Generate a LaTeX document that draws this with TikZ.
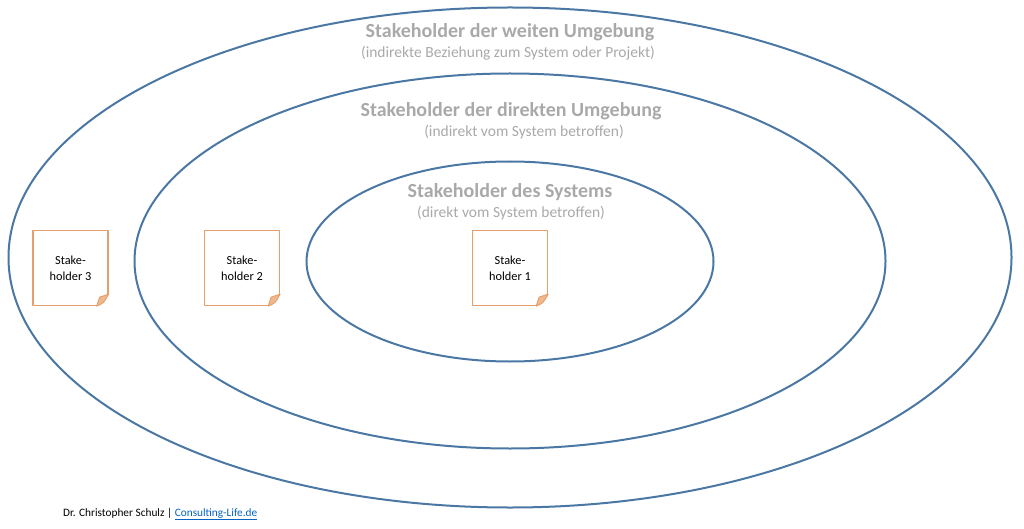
\documentclass[tikz,border=0pt]{standalone}
\usepackage{fontspec}
\setmainfont{Carlito}
\usepackage{tikz}
\definecolor{ink}{HTML}{000000}
\definecolor{ring}{HTML}{4A77A3}
\definecolor{notedraw}{HTML}{E3A06C}
\definecolor{notefold}{HTML}{F1B88E}
\definecolor{headgray}{HTML}{A9A9A9}
\definecolor{linkblue}{HTML}{0563C1}
\usetikzlibrary{
  positioning,
  calc,
  shapes.geometric
}
\tikzset{
  every picture/.style={line cap=round, line join=round},
  circle ring/.style={
    ellipse,
    draw=ring,
    line width=2pt,
    inner sep=0pt
  },
  note/.style={
    rectangle,
    draw=notedraw,
    fill=white,
    line width=1.3pt,
    minimum width=75pt,
    minimum height=75pt,
    inner sep=0pt,
    align=center,
    font=\fontsize{12.3}{16}\selectfont,
    text=ink
  },
  fold/.style={fill=notefold, draw=notedraw, line width=0.9pt},
  head/.style={font=\fontsize{20}{24}\selectfont\bfseries, text=headgray},
  subhead/.style={font=\fontsize{15.5}{18}\selectfont, text=headgray}
}

\begin{document}
\begin{tikzpicture}[x=1pt, y=1pt]
  \useasboundingbox (0,0) rectangle (1024,528);

  % Rings
  \node[circle ring, minimum width=1003pt, minimum height=500pt] (outer) at (510,270.5) {};
  \node[circle ring, minimum width=751pt, minimum height=375pt] (middle) at (510,267) {};
  \node[circle ring, minimum width=407pt, minimum height=200pt] (inner) at (510,266.5) {};

  % Headings
  \node[head] (h1) at (510,496) {Stakeholder der weiten Umgebung};
  \node[subhead] (s1) at (508,475) {(indirekte Beziehung zum System oder Projekt)};
  \node[head] (h2) at (511,417) {Stakeholder der direkten Umgebung};
  \node[subhead] (s2) at (524,396) {(indirekt vom System betroffen)};
  \node[head] (h3) at (510,336) {Stakeholder des Systems};
  \node[subhead] (s3) at (511,315) {(direkt vom System betroffen)};

  % Stakeholder notes
  \node[note] (sh3) at (70.5,260) {Stake-\\holder 3};
  \node[note] (sh2) at (242,260) {Stake-\\holder 2};
  \node[note] (sh1) at (510,260) {Stake-\\holder 1};

  % folded corners
  \foreach \n in {sh1,sh2,sh3}{
    \coordinate (\n-c) at (\n.south east);
    \fill[white] ($(\n-c)+(1.5,13.5)$) -- ($(\n-c)+(1.5,-1.5)$) -- ($(\n-c)+(-13.5,-1.5)$) -- cycle;
    \filldraw[fold]
      ($(\n-c)+(0,12)$) .. controls ($(\n-c)+(-5,10)$) .. ($(\n-c)+(-9,9)$)
      .. controls ($(\n-c)+(-10,5)$) .. ($(\n-c)+(-12,0)$)
      .. controls ($(\n-c)+(-5,3)$) .. cycle;
  }

  % Footer
  \node[anchor=west, font=\fontsize{11.3}{13}\selectfont, text=ink, inner sep=0pt] (foot) at (63,14)
    {Dr. Christopher Schulz | \textcolor{linkblue}{\underline{Consulting-Life.de}}};
\end{tikzpicture}
\end{document}
